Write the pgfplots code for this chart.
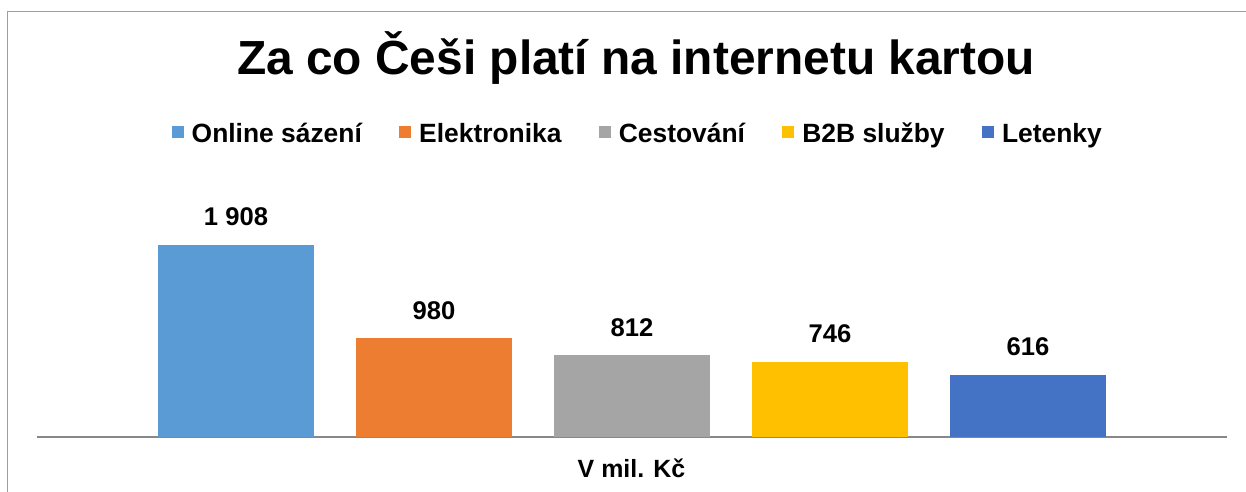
\documentclass[border=0pt]{standalone}
\usepackage{fontspec}
\setmainfont{Liberation Sans}
\usepackage{pgfplots}
\pgfplotsset{compat=1.18}
\definecolor{cBlue}{HTML}{5B9BD5}
\definecolor{cOrange}{HTML}{ED7D31}
\definecolor{cGray}{HTML}{A5A5A5}
\definecolor{cYellow}{HTML}{FFC000}
\definecolor{cDark}{HTML}{4472C4}
\definecolor{axisgray}{HTML}{888888}
\definecolor{framegray}{HTML}{9E9E9E}
\begin{document}
\begin{tikzpicture}
\path[use as bounding box, fill=white] (0,0) rectangle (934.5pt,369pt);
\draw[framegray, line width=1pt] (5.6pt,0) -- (5.6pt,360.4pt) -- (934.5pt,360.4pt);
\begin{axis}[
  at={(27.75pt,41.25pt)}, anchor=south west,
  scale only axis, width=892.5pt, height=177.75pt,
  xmin=-1.005, xmax=5.005, ymin=0, ymax=2355,
  axis x line=bottom, axis y line=none,
  axis line style={draw=axisgray, line width=1.3pt, -},
  xtick=\empty, ytick=\empty,
  ybar, bar width=117pt, bar shift=0pt,
  clip=false,
  point meta=explicit symbolic,
  nodes near coords,
  every node near coord/.append style={font=\bfseries\fontsize{19.2pt}{23pt}\selectfont, anchor=south, inner sep=0pt, yshift=14pt, text=black},
  title={\bfseries Za co Češi platí na internetu kartou},
  title style={at={(axis description cs:0.5034,1.5316)}, anchor=base, yshift=-6pt, font=\fontsize{35.9pt}{43pt}\selectfont, inner sep=0pt},
  xlabel={\bfseries V mil. Kč},
  xlabel style={at={(axis description cs:0.4996,-0.173)}, anchor=base, font=\fontsize{18.7pt}{22pt}\selectfont, inner sep=0pt},
  legend columns=5,
  legend style={at={(axis description cs:0.504,1.274)}, anchor=center, draw=none, fill=none, inner sep=0pt,
    font=\bfseries\fontsize{19.8pt}{24pt}\selectfont,
    nodes={inner sep=0pt, anchor=base west, text height=15pt, text depth=4.5pt},
    /tikz/every odd column/.append style={column sep=6pt},
    /tikz/every even column/.append style={column sep=28pt}},
  legend image code/.code={\fill[#1] (0pt,2.8pt) rectangle (9pt,11.8pt);},
]
\addplot[fill=cBlue, draw=none] coordinates {(0,1908) [1 908]};
\addlegendentry{Online sázení}
\addplot[fill=cOrange, draw=none] coordinates {(1,980) [980]};
\addlegendentry{Elektronika}
\addplot[fill=cGray, draw=none] coordinates {(2,812) [812]};
\addlegendentry{Cestování}
\addplot[fill=cYellow, draw=none] coordinates {(3,746) [746]};
\addlegendentry{B2B služby}
\addplot[fill=cDark, draw=none] coordinates {(4,616) [616]};
\addlegendentry{Letenky}
\end{axis}
\end{tikzpicture}
\end{document}
